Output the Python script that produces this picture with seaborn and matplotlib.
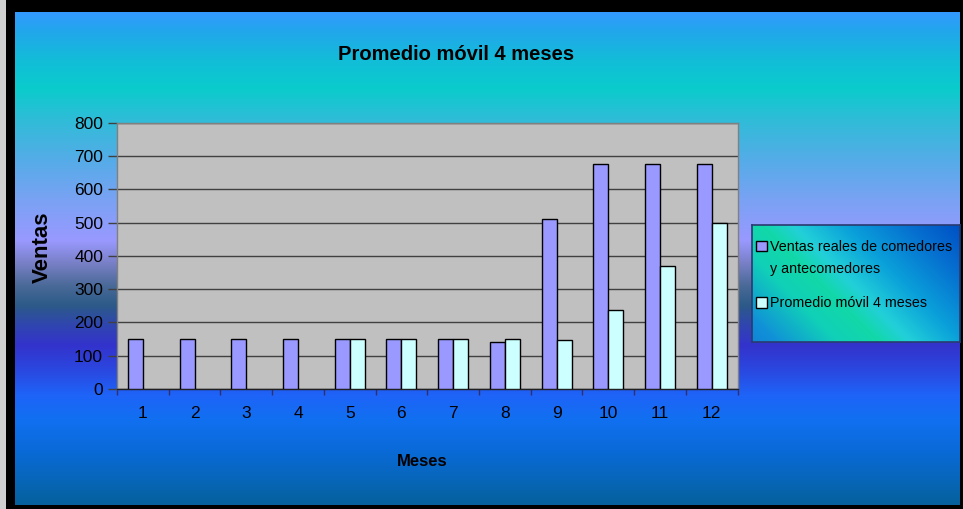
import numpy as np
import pandas as pd
import matplotlib
matplotlib.use("Agg")
import matplotlib.pyplot as plt
import seaborn as sns
from matplotlib import font_manager
from matplotlib.colors import to_rgb
from matplotlib.patches import Rectangle
from matplotlib.ticker import FixedLocator

# ---- data -------------------------------------------------------------
meses = ["1", "2", "3", "4", "5", "6", "7", "8", "9", "10", "11", "12"]
ventas_reales = [150, 150, 150, 150, 150, 150, 150, 140, 510, 675, 675, 675]
promedio_movil = [None, None, None, None, 150, 150, 150, 150, 147.5, 237.5, 368.75, 500]

serie_reales = "Ventas reales de comedores\ny antecomedores"
serie_promedio = "Promedio móvil 4 meses"
titulo = "Promedio móvil 4 meses"
etiqueta_x = "Meses"
etiqueta_y = "Ventas"
y_ticks = [0, 100, 200, 300, 400, 500, 600, 700, 800]

colores = {serie_reales: "#9999FF", serie_promedio: "#CCFFFF"}

# ---- fonts --------------------------------------------------------------
disponibles = {f.name for f in font_manager.fontManager.ttflist}
familia = [f for f in ["Liberation Sans Narrow", "Liberation Sans", "DejaVu Sans"] if f in disponibles]
plt.rcParams["font.family"] = familia

# ---- long table for seaborn --------------------------------------------
filas = []
for m, r, p in zip(meses, ventas_reales, promedio_movil):
    filas.append({"mes": m, "serie": serie_reales, "valor": r})
    if p is not None:
        filas.append({"mes": m, "serie": serie_promedio, "valor": p})
df = pd.DataFrame(filas)

W, H = 963, 509
fig = plt.figure(figsize=(W / 100, H / 100), dpi=100)

# ---- background: vertical multi-stop gradient + black frame -------------
paradas = [
    (12, "#3399FF"), (30, "#22A6EC"), (60, "#12BDD8"), (88, "#0ACCCC"),
    (120, "#30BCD8"), (160, "#55ACE8"), (200, "#7AA2F4"), (240, "#9999FF"),
    (262, "#7A80C8"), (285, "#4A6A98"), (305, "#2C5A88"), (325, "#3045B0"),
    (345, "#3333CC"), (370, "#2A48E0"), (395, "#1E64F8"), (420, "#1070F0"),
    (450, "#0A6AD8"), (480, "#0766B8"), (505, "#05609A"),
]
ys = np.arange(H)
pos = np.array([p for p, _ in paradas], dtype=float)
cols = np.array([to_rgb(c) for _, c in paradas])
grad = np.stack([np.interp(ys, pos, cols[:, k]) for k in range(3)], axis=-1)
grad = np.repeat(grad[:, None, :], 4, axis=1)

bg = fig.add_axes([0, 0, 1, 1], zorder=0)
bg.imshow(grad, aspect="auto", extent=[0, W, H, 0], interpolation="bilinear")
bg.set_xlim(0, W)
bg.set_ylim(H, 0)
bg.axis("off")
# black frame around the chart
for x0, y0, w, h in [(0, 0, W, 12), (0, 505, W, 4), (0, 0, 15, H), (960, 0, 3, H)]:
    bg.add_patch(Rectangle((x0, y0), w, h, color="black", lw=0))
bg.add_patch(Rectangle((0, 0), 6, H, color="#D0D0D0", lw=0))

# ---- plot area ------------------------------------------------------------
L, R, T, B = 117, 737.5, 122.7, 389
ax = fig.add_axes([L / W, 1 - B / H, (R - L) / W, (B - T) / H], zorder=2)
ax.set_facecolor("#C0C0C0")

sns.barplot(
    data=df, x="mes", y="valor", hue="serie", order=meses,
    hue_order=[serie_reales, serie_promedio], palette=colores,
    width=0.58, edgecolor="black", linewidth=1.0, saturation=1,
    ax=ax, zorder=3,
)

ax.set_ylim(0, 800)
ax.set_xlim(-0.5, len(meses) - 0.5)
ax.set_yticks(y_ticks)
ax.yaxis.grid(True, color="#404040", linewidth=1.0, zorder=1)
ax.set_axisbelow(True)
for s in ["top", "right", "left"]:
    ax.spines[s].set_color("#808080")
    ax.spines[s].set_linewidth(1.0)
ax.spines["bottom"].set_color("#202020")
ax.spines["bottom"].set_linewidth(1.0)

ax.tick_params(axis="y", length=6.5, width=1, color="#404040", pad=3.5,
               labelsize=12.5, labelcolor="black")
ax.tick_params(axis="x", which="major", length=0, pad=12, labelsize=12.5,
               labelcolor="black")
ax.xaxis.set_minor_locator(FixedLocator(np.arange(-0.5, len(meses), 1.0)))
ax.tick_params(axis="x", which="minor", length=4.5, width=1, color="#303070")
ax.set_xlabel("")
ax.set_ylabel("")

handles, labels = ax.get_legend_handles_labels()
ax.get_legend().remove()

# ---- texts ---------------------------------------------------------------
fig.text(456 / W, 1 - 55 / H, titulo, ha="center", va="center",
         fontsize=14.5, fontweight="bold", color="black", zorder=5)
fig.text(422 / W, 1 - 462 / H, etiqueta_x, ha="center", va="center",
         fontsize=12, fontweight="bold", color="black", zorder=5)
fig.text(42 / W, 1 - 247 / H, etiqueta_y, ha="center", va="center",
         rotation=90, fontsize=16, fontweight="bold", color="black", zorder=5)

# ---- legend box with diagonal gradient -----------------------------------
lx0, ly0, lx1, ly1 = 752, 225, 960, 342
lax = fig.add_axes([lx0 / W, 1 - ly1 / H, (lx1 - lx0) / W, (ly1 - ly0) / H], zorder=3)
gw, gh = lx1 - lx0, ly1 - ly0
xx, yy = np.meshgrid(np.linspace(0, 1, gw), np.linspace(0, 1, gh))
v = (xx * gw - yy * gh) / gw  # distance across the main diagonal
leg_pos = np.array([-1.0, -0.45, -0.15, 0.05, 0.2, 0.45, 0.75, 1.0])
leg_cols = np.array([to_rgb(c) for c in
                     ["#1058D0", "#1090D8", "#10D0B8", "#12D8A8", "#22D0D8",
                      "#0AA0DA", "#0670D0", "#0050C4"]])
lgrad = np.stack([np.interp(v, leg_pos, leg_cols[:, k]) for k in range(3)], axis=-1)
lax.imshow(lgrad, aspect="auto", extent=[0, 1, 0, 1], interpolation="bilinear")
lax.set_xticks([])
lax.set_yticks([])
for s in lax.spines.values():
    s.set_color("#2A3A70")
    s.set_linewidth(1.2)

leg = fig.legend(
    handles, labels, loc="upper left",
    bbox_to_anchor=(756 / W, 1 - 240 / H), bbox_transform=fig.transFigure,
    frameon=False, fontsize=10.3, handlelength=0.75, handleheight=0.75,
    handletextpad=0.25, labelspacing=1.45, borderpad=0, borderaxespad=0,
)
leg.set_zorder(6)
for t in leg.get_texts():
    t.set_linespacing(1.7)
for h in leg.legend_handles:
    h.set_edgecolor("black")
    h.set_linewidth(1.0)
# the swatch of the two-line entry sits beside its first line
first = leg.legend_handles[0]
first.set_y(first.get_y() + 9.0)

fig.savefig("out.png", dpi=100)
